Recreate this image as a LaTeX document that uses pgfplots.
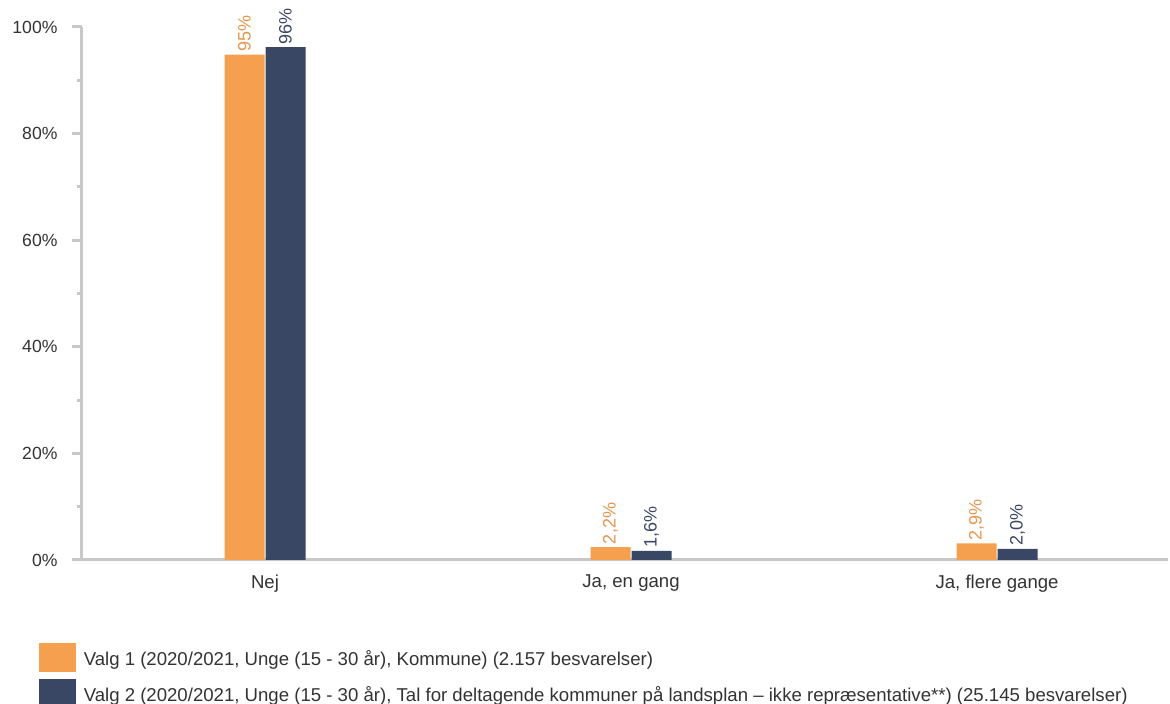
\documentclass[border=0pt]{standalone}
\usepackage{pgfplots}
\pgfplotsset{compat=1.18}
\usepackage{fontspec}
\setmainfont{Liberation Sans}
\definecolor{c1}{HTML}{F4A04F}
\definecolor{c2}{HTML}{394764}
\definecolor{c1t}{HTML}{E8954A}
\definecolor{axc}{HTML}{C8C8C8}
\definecolor{txt}{HTML}{333333}
\begin{document}
\begin{tikzpicture}[x=1pt,y=1pt]
\path[use as bounding box] (0,0) rectangle (1170,704);
\begin{axis}[
  at={(82pt,144pt)}, anchor=south west,
  scale only axis, width=1086pt, height=533pt,
  ybar=1pt, bar width=40pt,
  xmin=-0.5, xmax=2.467, ymin=0, ymax=100,
  axis x line=bottom, axis y line=left,
  axis line style={draw=axc, line width=3pt, -},
  xtick=data, xticklabels={Nej, {Ja, en gang}, {Ja, flere gange}},
  x tick label style={font=\fontsize{18.6}{21}\selectfont, text=txt, yshift=-1pt},
  ytick={0,20,...,100}, minor ytick={10,30,...,90},
  tick align=outside, major tick length=10pt, minor tick length=5pt,
  every tick/.style={draw=axc, line width=3pt},
  major x tick style={draw=none},
  yticklabel={\pgfmathprintnumber{\tick}\%},
  /pgf/number format/assume math mode=true,
  y tick label style={font=\fontsize{17.6}{20}\selectfont, text=txt, xshift=-11pt},
  every node near coord/.append style={rotate=90, anchor=west, font=\fontsize{18}{20}\selectfont, inner sep=3pt},
  nodes near coords,
  point meta=explicit symbolic,
  legend style={at={(-0.0400,-0.1557)}, anchor=north west, draw=none, fill=none, inner sep=0pt, row sep=7pt,
    font=\fontsize{18.6}{21}\selectfont, text=txt, legend cell align=left,
    /tikz/every odd column/.append style={column sep=6pt}},
  legend cell align=left,
  legend image code/.code={\fill[#1] (0pt,-13.5pt) rectangle (37pt,15.5pt);},
]
\addplot[fill=c1, draw=none, every node near coord/.append style={text=c1t}] coordinates {(0,94.8) [95\%] (1,2.4) [{2,2\%}] (2,3.1) [{2,9\%}]};
\addplot[fill=c2, draw=none, every node near coord/.append style={text=c2}] coordinates {(0,96.2) [96\%] (1,1.7) [{1,6\%}] (2,2.1) [{2,0\%}]};
\legend{{Valg 1 (2020/2021, Unge (15 - 30 år), Kommune) (2.157 besvarelser)},
{Valg 2 (2020/2021, Unge (15 - 30 år), Tal for deltagende kommuner på landsplan – ikke repræsentative**) (25.145 besvarelser)}}
\end{axis}
\end{tikzpicture}
\end{document}
